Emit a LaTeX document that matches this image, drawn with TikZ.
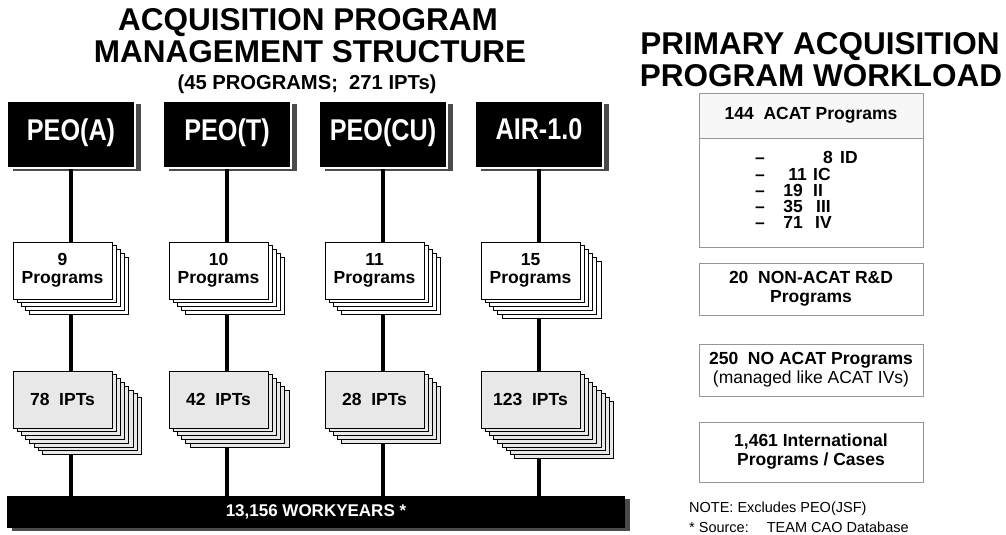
\documentclass[tikz,border=0pt]{standalone}
\usepackage{fontspec}
\setmainfont{Liberation Sans}
\newfontfamily\narrowfont[FakeStretch=0.84]{Liberation Sans}
\usepackage{tikz}
\usetikzlibrary{positioning, calc, shadows}
\definecolor{shadowgray}{RGB}{75,75,75}
\definecolor{iptgray}{RGB}{232,232,232}
\definecolor{boxedge}{RGB}{150,150,150}
\definecolor{hdrgray}{RGB}{247,247,247}
\tikzset{
  titletext/.style={anchor=base, inner sep=0pt,
    font=\fontsize{31.5}{32}\selectfont\bfseries},
  subtext/.style={anchor=base, inner sep=0pt,
    font=\fontsize{20.2}{21}\selectfont\bfseries},
  peobox/.style={rectangle, fill=black, draw=white, line width=1.2pt,
    text=white, minimum width=128, minimum height=67, inner sep=0pt,
    text depth=10.5pt,
    font=\narrowfont\bfseries\fontsize{30}{30}\selectfont,
    drop shadow={shadow xshift=6pt, shadow yshift=-3pt, fill=shadowgray, opacity=1}},
  progbox/.style={rectangle, draw=black, line width=0.8pt, fill=white,
    minimum width=99, minimum height=57, inner sep=0pt, align=center,
    font=\fontsize{17.5}{18}\selectfont\bfseries},
  iptbox/.style={progbox, fill=iptgray},
  barbox/.style={rectangle, fill=black, text=white, minimum width=618,
    minimum height=32, inner sep=0pt,
    font=\fontsize{17}{18}\selectfont\bfseries,
    drop shadow={shadow xshift=5pt, shadow yshift=-3pt, fill=shadowgray, opacity=1}},
  link/.style={line width=3.2pt, black},
  wlbox/.style={rectangle, draw=boxedge, line width=1pt, fill=white,
    minimum width=224, inner sep=0pt, align=center,
    font=\fontsize{17.5}{19}\selectfont\bfseries},
  listtext/.style={inner sep=0pt, font=\fontsize{17.5}{18}\selectfont\bfseries},
  notetext/.style={anchor=base west, inner sep=0pt,
    font=\fontsize{14.5}{16}\selectfont}
}

\begin{document}
\begin{tikzpicture}[x=1pt, y=-1pt]
  \useasboundingbox (0,0) rectangle (1006,535);

  % Left titles
  \node[titletext] (ltitle1) at (308,31) {ACQUISITION PROGRAM};
  \node[titletext] (ltitle2) at (310,63) {MANAGEMENT STRUCTURE};
  \node[subtext] (lsub) at (307,89) {(45 PROGRAMS;\ \ 271 IPTs)};

  % Workyears bar
  \node[barbox] (work) at (316,512) {13,156 WORKYEARS *};

  % Columns: PEO box, program stack, IPT stack
  \foreach \col/\xc/\peo/\np/\nprog/\ni/\nipt in
    {A/71/PEO(A)/9/4/78/7, T/227/PEO(T)/10/4/42/5,
     CU/383/PEO(CU)/11/4/28/4, AIR/539/AIR-1.0/15/5/123/8}
  {
    \node[peobox] (peo\col) at (\xc,134.5) {\peo};

    % program sheets, back to front
    \foreach \k in {1,...,\nprog}
      \node[progbox] (prog\col-\k) at ({\xc-8.5+4.2*(\nprog+1-\k)},{270.5+3.8*(\nprog+1-\k)}) {};
    \node[progbox] (prog\col) at (\xc-8.5,270.5) {\np\\Programs};

    % IPT sheets, back to front
    \foreach \k in {1,...,\nipt}
      \node[iptbox] (ipt\col-\k) at ({\xc-8.5+4.2*(\nipt+1-\k)},{399.5+3.8*(\nipt+1-\k)}) {};
    \node[iptbox] (ipt\col) at (\xc-8.5,399.5) {\ni\ \ IPTs};

    \draw[link] (peo\col.south) -- (peo\col.south |- prog\col.north);
    \draw[link] (peo\col.south |- prog\col-1.south) -- (peo\col.south |- ipt\col.north);
    \draw[link] (peo\col.south |- ipt\col-1.south) -- (peo\col.south |- work.north);
  }

  % Right titles
  \node[titletext] (rtitle1) at (820,55) {PRIMARY ACQUISITION};
  \node[titletext] (rtitle2) at (821,86) {PROGRAM WORKLOAD};

  % ACAT box
  \node[wlbox, fill=hdrgray, minimum height=45] (acathdr) at (811,115.5) {144\ \ ACAT Programs};
  \node[wlbox, minimum height=109] (acatbody) at (811,192.5) {};
  \foreach \cnt/\cntx/\acat/\acatx/\yb [count=\r] in
    {8/833/ID/840/163, 11/807/IC/813/180, 19/803/II/813/196,
     35/803/III/816/212, 71/803/IV/815/228}
  {
    \node[listtext, anchor=base west] (dash\r) at (755,\yb) {\textendash};
    \node[listtext, anchor=base east] (cnt\r) at (\cntx,\yb) {\cnt};
    \node[listtext, anchor=base west] (cat\r) at (\acatx,\yb) {\acat};
  }

  % Other workload boxes
  \node[wlbox, minimum height=52] (nonacat) at (811,289) {20\ \ NON-ACAT R\&D\\Programs};
  \node[wlbox, minimum height=52] (noacat) at (811,370) {250\ \ NO ACAT Programs\\{\mdseries(managed like ACAT IVs)}};
  \node[wlbox, minimum height=60] (intl) at (811,452) {1,461 International\\Programs / Cases};

  % Notes
  \node[notetext] (note1) at (689,512) {NOTE: Excludes PEO(JSF)};
  \node[notetext] (note2) at (689,532) {* Source:\hspace{18pt}TEAM CAO Database};
\end{tikzpicture}
\end{document}
